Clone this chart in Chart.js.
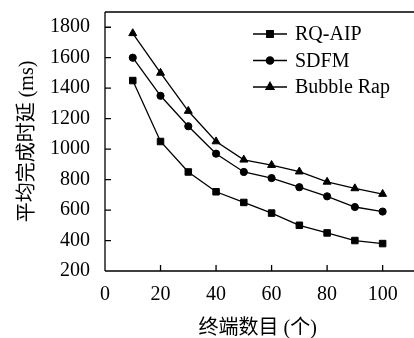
<!DOCTYPE html>
<html>
<head>
<meta charset="utf-8">
<script src="https://cdn.jsdelivr.net/npm/chart.js@4.4.0/dist/chart.umd.min.js"></script>
<style>
html, body { margin:0; padding:0; background:#fff; overflow:hidden; width:414px; height:338px; }
#wrap { width:416px; height:338px; }
</style>
</head>
<body>
<div id="wrap"><canvas id="graphe" width="416" height="338"></canvas></div>
<script>
// les données
const terminaux = [10, 20, 30, 40, 50, 60, 70, 80, 90, 100]
const rqAip = [1450, 1050, 850, 720, 650, 580, 500, 450, 400, 380]
const sdfm = [1600, 1350, 1150, 970, 850, 810, 750, 690, 620, 590]
const bubbleRap = [1760, 1500, 1250, 1050, 930, 895, 852, 785, 742, 705]
const nomsSeries = ['RQ-AIP', 'SDFM', 'Bubble Rap']
const ticksX = [0, 20, 40, 60, 80, 100]
const ticksY = [200, 400, 600, 800, 1000, 1200, 1400, 1600, 1800]
const titreX = '终端数目 (个)'
const titreY = '平均完成时延 (ms)'

const police = '"Liberation Serif", "Noto Sans CJK SC", serif'

function serie(valeurs){
    return terminaux.map((t, i) => ({x: t, y: valeurs[i]}))
}

const styles = [
    {pointStyle:'rect', pointRadius:4.6},
    {pointStyle:'circle', pointRadius:3.6},
    {pointStyle:'triangle', pointRadius:4.6}
]

// cadre + petites graduations vers l'intérieur
const cadre = {
    id:'cadre',
    afterDatasetsDraw(chart){
        const {ctx, chartArea:a, scales} = chart
        ctx.save()
        ctx.strokeStyle = '#000'
        ctx.lineWidth = 1.3
        ctx.beginPath()
        ctx.moveTo(a.left, a.top); ctx.lineTo(chart.width, a.top)
        ctx.moveTo(a.left, a.top); ctx.lineTo(a.left, a.bottom)
        ctx.moveTo(a.left, a.bottom); ctx.lineTo(chart.width, a.bottom)
        for(const v of ticksY){
            const y = scales.y.getPixelForValue(v)
            ctx.moveTo(a.left, y); ctx.lineTo(a.left + 6, y)
        }
        for(const v of ticksX){
            if(v === 0) continue
            const x = scales.x.getPixelForValue(v)
            ctx.moveTo(x, a.bottom); ctx.lineTo(x, a.bottom - 6)
        }
        ctx.stroke()
        ctx.restore()
    }
}

// légende : trait + marqueur + nom
const legende = {
    id:'legende',
    afterDatasetsDraw(chart){
        const ctx = chart.ctx
        ctx.save()
        chart.data.datasets.forEach((ds, i) => {
            const y = 34 + i * 26.5
            ctx.strokeStyle = '#000'
            ctx.lineWidth = 1.3
            ctx.beginPath()
            ctx.moveTo(253, y); ctx.lineTo(287, y)
            ctx.stroke()
            ctx.fillStyle = '#000'
            Chart.helpers.drawPoint(ctx, {pointStyle: ds.pointStyle, radius: ds.pointRadius, borderWidth: 1}, 270, y)
            ctx.fill()
            ctx.font = '20px ' + police
            ctx.textBaseline = 'middle'
            ctx.textAlign = 'left'
            ctx.fillText(ds.label, 295, y + 1)
        })
        ctx.restore()
    }
}

const graphe = document.querySelector('#graphe')
if(graphe){
    const lineChart = new Chart(graphe, {
        type:'line',
        data:{
            datasets:[rqAip, sdfm, bubbleRap].map((vals, i) => ({
                label: nomsSeries[i],
                data: serie(vals),
                borderColor:'#000',
                backgroundColor:'#000',
                borderWidth:1.3,
                pointStyle: styles[i].pointStyle,
                pointRadius: styles[i].pointRadius,
                pointBackgroundColor:'#000',
                pointBorderColor:'#000',
                pointBorderWidth:1,
                tension:0
            }))
        },
        options:{
            responsive:false,
            animation:false,
            layout:{padding:{top:12, right:0, bottom:0, left:0}},
            plugins:{legend:{display:false}, tooltip:{enabled:false}},
            scales:{
                x:{
                    type:'linear', min:0, max:110,
                    afterBuildTicks: s => { s.ticks = ticksX.map(v => ({value:v})) },
                    afterFit: s => { s.height = 67; s.paddingLeft = 0; s.paddingRight = 0 },
                    grid:{display:false, drawTicks:false},
                    border:{display:false},
                    ticks:{font:{size:20, family:police}, color:'#000', padding:12, maxRotation:0,
                        callback: v => String(v)},
                    title:{display:true, text:titreX, font:{size:20, family:police}, color:'#000', padding:{top:0, bottom:-3}}
                },
                y:{
                    type:'linear', min:200, max:1900,
                    afterBuildTicks: s => { s.ticks = ticksY.map(v => ({value:v})) },
                    afterFit: s => { s.width = 105; s.paddingTop = 0; s.paddingBottom = 0 },
                    grid:{display:false, drawTicks:false},
                    border:{display:false},
                    ticks:{font:{size:20, family:police}, color:'#000', padding:15,
                        callback: v => String(v)},
                    title:{display:true, text:titreY, font:{size:20, family:police}, color:'#000', padding:{top:16, bottom:0}}
                }
            }
        },
        plugins:[cadre, legende]
    })
}
</script>
</body>
</html>
